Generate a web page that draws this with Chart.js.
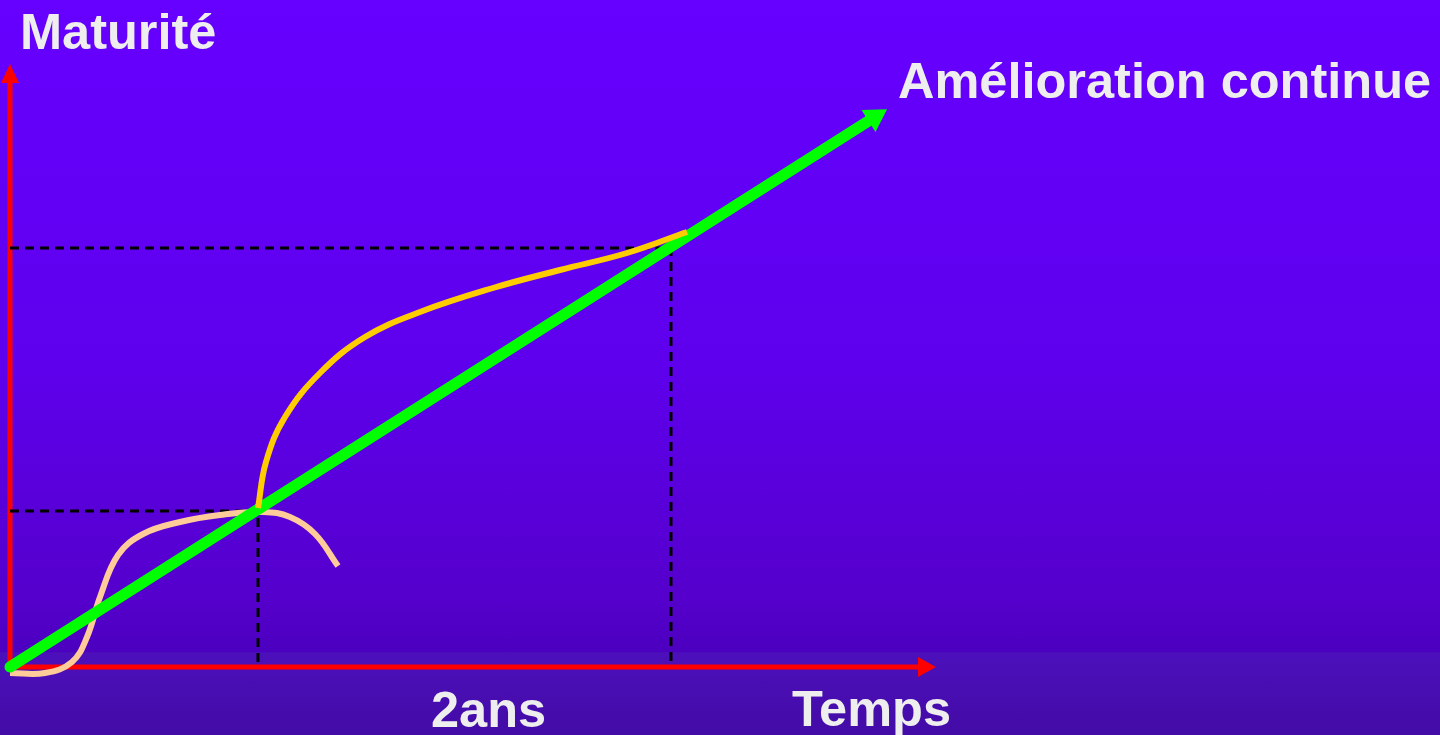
<!DOCTYPE html>
<html>
<head>
<meta charset="utf-8">
<script src="https://cdn.jsdelivr.net/npm/chart.js@4/dist/chart.umd.min.js"></script>
<style>
  html, body { margin: 0; padding: 0; }
  body {
    width: 1440px;
    height: 735px;
    overflow: hidden;
    background: linear-gradient(to bottom, #6600ff 0%, #5e00ec 50%, #5500cc 81.6%, #4c00bf 88.7%, #4c10bb 88.8%, #430ba6 100%);
  }
  #wrap { position: relative; width: 1440px; height: 735px; }
</style>
</head>
<body>
<div id="wrap"><canvas id="maturity-chart"></canvas></div>
<script>
// units: x = temps, y = maturite (origin at the axes corner)

const axis_x = [{ x: 0, y: 0 }, { x: 90.8, y: 0 }];
const axis_y = [{ x: 0, y: 0 }, { x: 0, y: 58.4 }];

const improvement = [{ x: 0, y: 0 }, { x: 85.85, y: 54.6 }];

const first_cycle = [
  { x: 0, y: -0.6 }, { x: 3.5, y: -0.6 }, { x: 6.2, y: 0.5 }, { x: 7.7, y: 3.0 },
  { x: 9.0, y: 7.0 }, { x: 10.8, y: 11.2 }, { x: 13.3, y: 13.3 }, { x: 17.0, y: 14.5 },
  { x: 21.0, y: 15.2 }, { x: 25.3, y: 15.5 }, { x: 28.0, y: 15.0 }, { x: 30.5, y: 13.3 },
  { x: 32.8, y: 10.1 },
];

const second_cycle = [
  { x: 24.8, y: 15.9 }, { x: 25.6, y: 20.5 }, { x: 27.5, y: 25.0 }, { x: 31.0, y: 29.4 },
  { x: 35.5, y: 33.0 }, { x: 41.0, y: 35.5 }, { x: 48.3, y: 37.9 }, { x: 55.0, y: 39.7 },
  { x: 61.7, y: 41.4 }, { x: 67.7, y: 43.5 },
];

const guide_1 = [{ x: 0, y: 15.6 }, { x: 24.8, y: 15.6 }, { x: 24.8, y: 0 }];
const guide_2 = [{ x: 0, y: 41.9 }, { x: 66.1, y: 41.9 }, { x: 66.1, y: 0 }];

const texts = ["Maturité", "Amélioration continue", "Temps", "2ans"];

// draws a filled triangle after the last point of a dataset
const arrowPlugin = {
  id: "arrows",
  afterDatasetsDraw(chart) {
    const ctx = chart.ctx;
    chart.data.datasets.forEach((ds, i) => {
      if (!ds.arrow) return;
      const pts = chart.getDatasetMeta(i).data;
      const a = pts[pts.length - 2];
      const b = pts[pts.length - 1];
      const ang = Math.atan2(b.y - a.y, b.x - a.x);
      const len = ds.arrow.length;
      const half = ds.arrow.width / 2;
      ctx.save();
      ctx.translate(b.x, b.y);
      ctx.rotate(ang);
      ctx.beginPath();
      ctx.moveTo(len, 0);
      ctx.lineTo(0, -half);
      ctx.lineTo(0, half);
      ctx.closePath();
      ctx.fillStyle = ds.borderColor;
      ctx.fill();
      ctx.restore();
    });
  },
};

const textPlugin = {
  id: "texts",
  afterDraw(chart) {
    const ctx = chart.ctx;
    const place = [[20, 49], [898, 98], [792, 726], [431, 727]];
    ctx.save();
    ctx.font = "bold 50.5px 'Liberation Sans', Arial, sans-serif";
    ctx.fillStyle = "#eeeeee";
    ctx.textBaseline = "alphabetic";
    texts.forEach((t, i) => ctx.fillText(t, place[i][0], place[i][1]));
    ctx.restore();
  },
};

function line(data, color, width, extra) {
  return Object.assign({
    data: data,
    showLine: true,
    borderColor: color,
    borderWidth: width,
    pointRadius: 0,
    pointHoverRadius: 0,
    fill: false,
    clip: false,
    borderCapStyle: "butt",
  }, extra || {});
}

const config = {
  type: "scatter",
  data: {
    datasets: [
      line(second_cycle, "#ffcc00", 6, { tension: 0.4 }),
      line(improvement, "#00ff00", 11, { borderCapStyle: "round", arrow: { length: 22, width: 26 } }),
      line(first_cycle, "#ffcc99", 6, { tension: 0.4 }),
      line(guide_1, "#000000", 3, { borderDash: [9, 6] }),
      line(guide_2, "#000000", 3, { borderDash: [9, 6] }),
      line(axis_x, "#ff0000", 5, { arrow: { length: 18, width: 20 } }),
      line(axis_y, "#ff0000", 5, { arrow: { length: 19, width: 18 } }),
    ],
  },
  options: {
    responsive: true,
    maintainAspectRatio: false,
    animation: false,
    layout: { padding: 0 },
    plugins: {
      legend: { display: false },
      tooltip: { enabled: false },
    },
    scales: {
      x: { type: "linear", min: -1, max: 143, display: false },
      y: { type: "linear", min: -6.8, max: 66.7, display: false },
    },
  },
  plugins: [arrowPlugin, textPlugin],
};

const ctx = document.getElementById("maturity-chart").getContext("2d");
const maturityChart = new Chart(ctx, config);
</script>
</body>
</html>
